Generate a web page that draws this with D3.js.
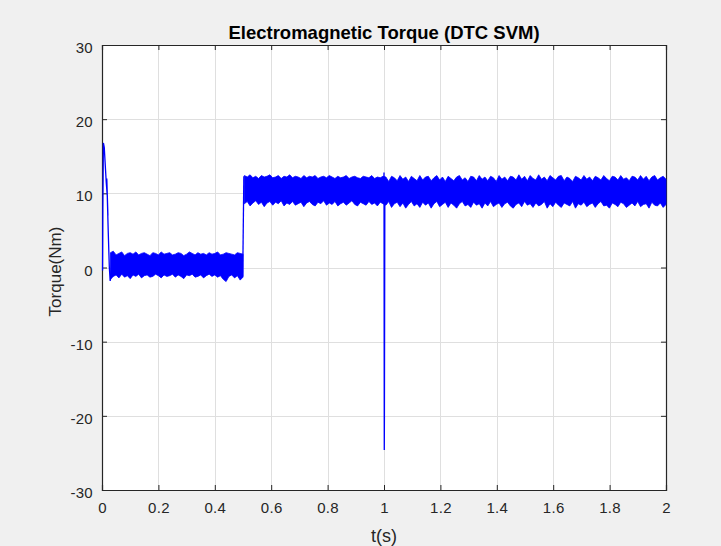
<!DOCTYPE html>
<html>
<head>
<meta charset="utf-8">
<script src="https://cdn.jsdelivr.net/npm/d3@7"></script>
<style>
  body { margin: 0; background: #f0f0f0; }
  svg { display: block; font-family: "Liberation Sans", Arial, sans-serif; }
  .tick text { fill: #262626; font-size: 15px; letter-spacing: 0.3px; }
</style>
</head>
<body>
<div id="chart"></div>
<script>
// ---------------------------------------------------------------------------
// Data

const xTicks = [0, 0.2, 0.4, 0.6, 0.8, 1, 1.2, 1.4, 1.6, 1.8, 2];
const yTicks = [-30, -20, -10, 0, 10, 20, 30];

// start-up transient, [t, torque]
const startT = [0.002, 0.003, 0.005, 0.008, 0.011, 0.015, 0.019, 0.021, 0.017, 0.022, 0.026, 0.029, 0.032, 0.035];
const startV = [-0.4, 8, 16.8, 16.2, 14.2, 11.5, 9.5, 7, 12, 5, 0, -1.8, -1.2, 0.8];

// ripple band, no-load part (t 0.03 .. 0.50)
const band1Range = [0.03, 0.50];
const band1Hi = [2.0, 2.2, 1.7, 1.9, 2.1, 1.6, 1.9, 2.0, 1.8, 2.1, 1.7, 1.9, 2.0, 1.8, 1.6, 2.0,
  1.9, 1.7, 2.1, 1.8, 1.9, 2.0, 1.7, 1.8, 2.0, 1.9, 1.6, 1.8, 2.1, 1.9, 1.7, 2.0,
  1.8, 1.9, 1.7, 2.0, 1.8, 1.9, 2.1, 1.7, 1.8, 2.0, 1.9, 1.8, 1.7, 2.0, 1.9, 1.8];
const band1Lo = [-1.6, -1.2, -1.0, -1.4, -0.9, -1.3, -1.1, -1.5, -1.0, -1.2, -0.9, -1.4, -1.1, -1.0, -1.3, -1.2,
  -0.9, -1.1, -1.4, -1.0, -1.2, -1.1, -0.9, -1.3, -1.0, -1.2, -1.5, -1.0, -1.1, -0.9, -1.3, -1.2,
  -1.0, -1.4, -1.1, -0.9, -1.2, -1.0, -1.3, -1.1, -1.6, -1.9, -1.2, -1.0, -1.4, -1.1, -1.7, -1.3];

// ripple band, loaded part (t 0.505 .. 2.0)
const band2Range = [0.505, 2.0];
const band2Hi = [12.4, 12.2, 12.5, 12.1, 12.3, 12.0, 12.4, 12.2, 12.3, 12.5, 12.1, 12.2, 12.4, 12.0, 12.3, 12.2,
  12.5, 12.1, 12.3, 12.2, 12.0, 12.4, 12.1, 12.3, 12.2, 12.4, 12.0, 12.2, 12.3, 12.1, 12.4, 12.2,
  12.0, 12.3, 12.1, 12.2, 12.4, 12.0, 12.2, 12.3, 12.1, 12.0, 12.3, 12.2, 12.1, 12.4, 12.0, 12.2,
  12.1, 12.3,
  12.2, 11.6, 12.3, 12.1, 11.7, 12.4, 11.9, 12.2, 11.6, 12.3, 12.0, 11.7, 12.4, 11.8, 12.2, 12.3,
  11.7, 12.1, 12.4, 11.8, 12.2, 11.6, 12.3, 12.0, 11.7, 12.2, 12.4, 11.8, 12.1, 11.6, 12.3, 12.2,
  11.7, 12.4, 11.9, 12.2, 11.7, 12.3, 12.1, 11.6, 12.4, 11.9, 12.2, 11.7, 12.3, 12.2, 11.8, 12.5,
  11.9, 12.3, 11.7, 12.4, 12.0, 11.8, 12.5, 11.9, 12.2, 11.7, 12.4, 12.1, 11.8, 12.3, 12.4, 11.7,
  12.2, 12.0, 11.6, 12.3, 12.1, 11.8, 12.4, 11.9, 12.2, 11.7, 12.3, 12.1, 11.8, 12.4, 12.0, 11.7,
  12.3, 12.2, 11.8, 12.4, 11.9, 12.1, 11.7, 12.3, 12.2, 11.8, 12.4, 11.9, 12.3, 11.7, 12.2, 12.4,
  11.8, 12.1, 12.3, 11.9];
const band2Lo = [8.6, 8.9, 8.3, 8.7, 9.0, 8.5, 8.8, 8.2, 8.7, 8.9, 8.4, 8.8, 8.6, 9.0, 8.3, 8.7,
  8.5, 8.9, 8.4, 8.6, 8.8, 8.2, 8.7, 8.9, 8.5, 8.3, 8.8, 8.6, 9.0, 8.4, 8.7, 8.5,
  8.9, 8.3, 8.6, 8.8, 8.4, 8.7, 9.0, 8.5, 8.3, 8.8, 8.6, 8.4, 8.9, 8.5, 8.7, 8.3,
  8.8, 8.6,
  8.4, 8.9, 8.1, 8.6, 8.8, 8.2, 8.7, 8.0, 8.5, 8.9, 8.3, 8.6, 8.1, 8.8, 8.4, 8.7,
  8.0, 8.6, 8.9, 8.2, 8.5, 8.8, 8.1, 8.7, 8.4, 8.0, 8.6, 8.9, 8.3, 8.5, 8.1, 8.8,
  8.4, 8.6, 8.0, 8.7, 8.3, 8.9, 8.2, 8.5, 8.7, 8.1, 8.6, 8.8, 8.3, 8.0, 8.5, 8.7,
  8.2, 8.9, 8.4, 8.6, 8.1, 8.7, 8.3, 8.5, 8.9, 8.0, 8.6, 8.2, 8.8, 8.4, 8.1, 8.7,
  8.5, 8.3, 8.9, 8.0, 8.6, 8.4, 8.8, 8.2, 8.5, 8.7, 8.1, 8.6, 8.9, 8.3, 8.4, 8.0,
  8.7, 8.5, 8.2, 8.8, 8.6, 8.1, 8.4, 8.7, 8.3, 8.9, 8.2, 8.5, 8.6, 8.0, 8.8, 8.4,
  8.3, 8.7, 8.1, 8.5];

// load step at 0.5 s and disturbance spike at 1 s
const stepT = [0.499, 0.503];
const stepV = [-1.2, 12.3];
const spikeT = [0.998, 1.0, 1.001, 1.0015, 1.003];
const spikeV = [9.5, 12.8, -24.6, -20, 9.2];

// ---------------------------------------------------------------------------
// Chart

const width = 721;
const height = 546;
const margin = {top: 45, right: 55, bottom: 56, left: 102};

function zipSeries(ts, vs) {
  return ts.map((t, i) => [t, vs[i]]);
}

// spread values evenly over a time range
function spread(range, vs) {
  const n = vs.length;
  return vs.map((v, i) => [range[0] + (range[1] - range[0]) * i / (n - 1), v]);
}

function drawChart() {
  const svg = d3.select('#chart')
    .append('svg')
    .attr('width', width)
    .attr('height', height);

  const x = d3.scaleLinear().domain([0, 2]).range([margin.left, width - margin.right]);
  const y = d3.scaleLinear().domain([-30, 30]).range([height - margin.bottom, margin.top]);

  const plotW = width - margin.right - margin.left;
  const plotH = height - margin.bottom - margin.top;

  svg.append('rect')
    .attr('x', margin.left).attr('y', margin.top)
    .attr('width', plotW).attr('height', plotH)
    .attr('fill', '#ffffff');

  // grid
  const grid = svg.append('g').attr('stroke', '#dfdfdf').attr('stroke-width', 1);
  xTicks.slice(1, -1).forEach(t => {
    grid.append('line')
      .attr('x1', Math.round(x(t)) + 0.5).attr('x2', Math.round(x(t)) + 0.5)
      .attr('y1', margin.top).attr('y2', height - margin.bottom);
  });
  yTicks.slice(1, -1).forEach(v => {
    grid.append('line')
      .attr('x1', margin.left).attr('x2', width - margin.right)
      .attr('y1', Math.round(y(v)) + 0.5).attr('y2', Math.round(y(v)) + 0.5);
  });

  // axes (drawn before the signal so the trace sits on top)
  const axisColor = '#262626';
  const fmt = d => String(d);
  const xAxis = svg.append('g')
    .attr('transform', `translate(0,${height - margin.bottom})`)
    .call(d3.axisBottom(x).tickValues(xTicks).tickSize(-5).tickPadding(12).tickFormat(fmt));
  const xTop = svg.append('g')
    .attr('transform', `translate(0,${margin.top})`)
    .call(d3.axisTop(x).tickValues(xTicks).tickSize(-5).tickFormat(''));
  const yAxis = svg.append('g')
    .attr('transform', `translate(${margin.left},0)`)
    .call(d3.axisLeft(y).tickValues(yTicks).tickSize(-5).tickPadding(9).tickFormat(fmt));
  const yRight = svg.append('g')
    .attr('transform', `translate(${width - margin.right},0)`)
    .call(d3.axisRight(y).tickValues(yTicks).tickSize(-5).tickFormat(''));

  [xAxis, xTop, yAxis, yRight].forEach(a => {
    a.select('.domain').attr('stroke', axisColor).attr('stroke-width', 1.2);
    a.selectAll('.tick line').attr('stroke', axisColor);
    a.selectAll('text').attr('font-family', '"Liberation Sans", Arial, sans-serif');
  });
  yAxis.selectAll('.tick text').attr('dy', '0.5em');

  // signal
  const line = d3.line().x(d => x(d[0])).y(d => y(d[1]));
  const plot = svg.append('g');

  [[band1Range, band1Hi, band1Lo], [band2Range, band2Hi, band2Lo]].forEach(b => {
    const poly = spread(b[0], b[1]).concat(spread(b[0], b[2]).reverse());
    plot.append('path')
      .attr('d', line(poly) + 'Z')
      .attr('fill', '#0000ff')
      .attr('stroke', '#0000ff')
      .attr('stroke-width', 0.8)
      .attr('stroke-linejoin', 'round');
  });

  [zipSeries(startT, startV), zipSeries(stepT, stepV), zipSeries(spikeT, spikeV)].forEach(s => {
    plot.append('path')
      .attr('d', line(s))
      .attr('fill', 'none')
      .attr('stroke', '#0000ff')
      .attr('stroke-width', 1.3);
  });

  // labels
  svg.append('text')
    .attr('x', x(1)).attr('y', 39)
    .attr('text-anchor', 'middle')
    .attr('font-size', 18.5).attr('font-weight', 'bold')
    .attr('fill', '#000')
    .text('Electromagnetic Torque (DTC SVM)');

  svg.append('text')
    .attr('x', x(1)).attr('y', 542)
    .attr('text-anchor', 'middle')
    .attr('font-size', 18)
    .attr('fill', axisColor)
    .text('t(s)');

  svg.append('text')
    .attr('transform', `translate(61,${y(0) + 4}) rotate(-90)`)
    .attr('text-anchor', 'middle')
    .attr('font-size', 17)
    .attr('fill', axisColor)
    .text('Torque(Nm)');
}

drawChart();
</script>
</body>
</html>
